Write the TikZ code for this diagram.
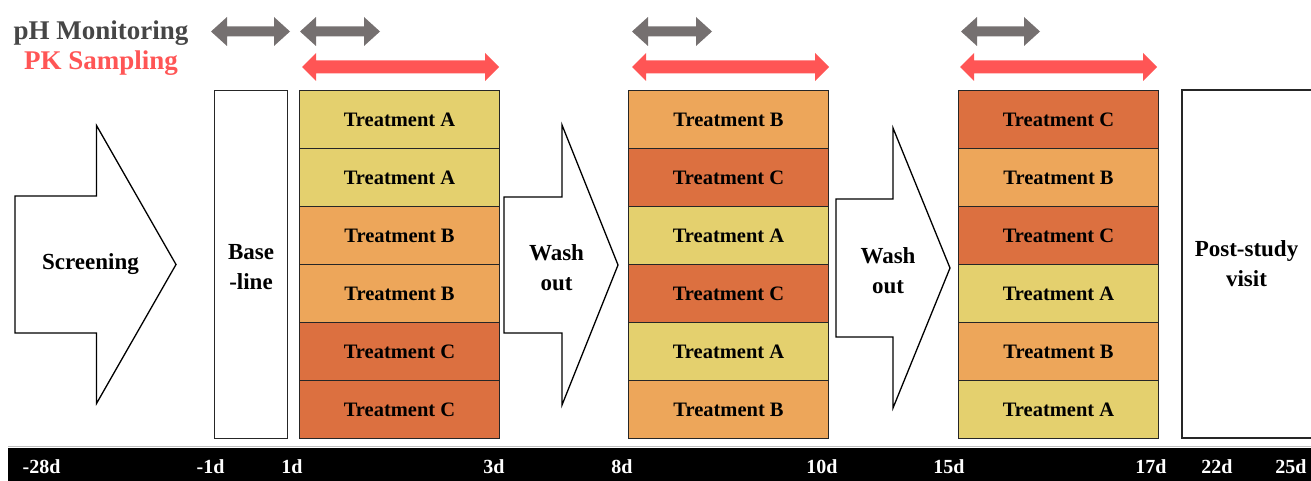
\documentclass[tikz,border=0pt]{standalone}
\usepackage{fontspec}
\setmainfont{Liberation Serif}
\usetikzlibrary{positioning}
\definecolor{trtyellow}{RGB}{228,208,110}
\definecolor{trtorange}{RGB}{237,166,90}
\definecolor{trtred}{RGB}{220,112,64}
\definecolor{phgray}{RGB}{117,112,112}
\definecolor{phtext}{RGB}{70,70,70}
\definecolor{pkred}{RGB}{255,85,85}
\tikzset{x=1pt, y=-1pt, % pixel-like units, y grows downwards
cell/.style={ % one treatment period
draw=black!85, line width=1pt,
minimum width=200pt, minimum height=58pt,
anchor=north west, inner sep=0pt,
font=\fontsize{20.5}{24}\selectfont\bfseries},
trtA/.style={cell, fill=trtyellow},
trtB/.style={cell, fill=trtorange},
trtC/.style={cell, fill=trtred},
phase/.style={draw, line width=1.3pt, fill=white, line join=miter}, % big block arrows
phasetext/.style={align=center, font=\fontsize{23}{30}\selectfont\bfseries},
plainbox/.style={draw=black!85, line width=1.2pt, fill=white},
daylabel/.style={text=white, font=\fontsize{20}{24}\selectfont\bfseries},
legend/.style={font=\fontsize{27}{30}\selectfont\bfseries, anchor=base}}

% x1, x2, y, half body, half head, head length, colour
\newcommand{\spanarrow}[7]{%
\fill[#7] (#1,#3) -- (#1+#6,#3-#5) -- (#1+#6,#3-#4) -- (#2-#6,#3-#4) -- (#2-#6,#3-#5)
 -- (#2,#3) -- (#2-#6,#3+#5) -- (#2-#6,#3+#4) -- (#1+#6,#3+#4) -- (#1+#6,#3+#5) -- cycle;}
% left, head start, tip, centre y, half body, half head
\newcommand{\phasearrow}[6]{%
\draw[phase] (#1,#4-#5) -- (#2,#4-#5) -- (#2,#4-#6) -- (#3,#4) -- (#2,#4+#6)
 -- (#2,#4+#5) -- (#1,#4+#5) -- cycle;}

\begin{document}
\begin{tikzpicture}
    \useasboundingbox (0,0) rectangle (1311,481);
    
    % legend
    \node[legend, text=phtext] (ph) at (101,40) {pH Monitoring};
    \node[legend, text=pkred] (pk) at (101,70) {PK Sampling};
    
    % sampling windows
    \spanarrow{211}{290}{31.5}{5}{14.5}{16}{phgray}
    \spanarrow{300}{380}{31.5}{5}{14.5}{16}{phgray}
    \spanarrow{632}{712}{31.5}{5}{14.5}{16}{phgray}
    \spanarrow{961}{1040}{31.5}{5}{14.5}{16}{phgray}
    \spanarrow{302}{499}{67}{6.5}{14}{14}{pkred}
    \spanarrow{632}{829}{67}{6.5}{14}{14}{pkred}
    \spanarrow{960}{1157}{67}{6.5}{14}{14}{pkred}
    
    % screening and wash-out
    \phasearrow{15}{96.5}{176}{264.5}{68.5}{139}
    \phasearrow{504}{562}{618}{265}{68}{140}
    \phasearrow{836}{893}{950}{268}{69}{140}
    \node[phasetext] (screen) at (90.5,264) {Screening};
    \node[phasetext] (wash1) at (556.5,268) {Wash\\out};
    \node[phasetext] (wash2) at (888,271) {Wash\\out};
    
    % baseline and post-study
    \node[plainbox, minimum width=73pt, minimum height=348pt, anchor=north west] (base) at (214,90) {};
    \node[phasetext] at (251,267) {Base\\-line};
    \draw[plainbox] (1182,90) rectangle (1320,438);
    \node[phasetext] (post) at (1246.5,264) {Post-study\\visit};
    
    % treatment periods
    \foreach \t [count=\i from 0] in {A,A,B,B,C,C}
        \node[trt\t] (p1r\i) at (299,90+58*\i) {Treatment \t};
    \foreach \t [count=\i from 0] in {B,C,A,C,A,B}
        \node[trt\t] (p2r\i) at (628,90+58*\i) {Treatment \t};
    \foreach \t [count=\i from 0] in {C,B,C,A,B,A}
        \node[trt\t] (p3r\i) at (958,90+58*\i) {Treatment \t};
    
    % time line
    \draw[black!25, line width=1pt] (8,446.5) -- (1311,446.5);
    \fill[black] (8,448) rectangle (1311,481);
    \foreach \x/\d in {41.5/-28d, 210.5/-1d, 292/1d, 494/3d, 622/8d, 822/10d, 949/15d, 1151/17d, 1217/22d, 1291/25d}
        \node[daylabel] (day\d) at (\x,467) {\d};
    
\end{tikzpicture}
\end{document}
